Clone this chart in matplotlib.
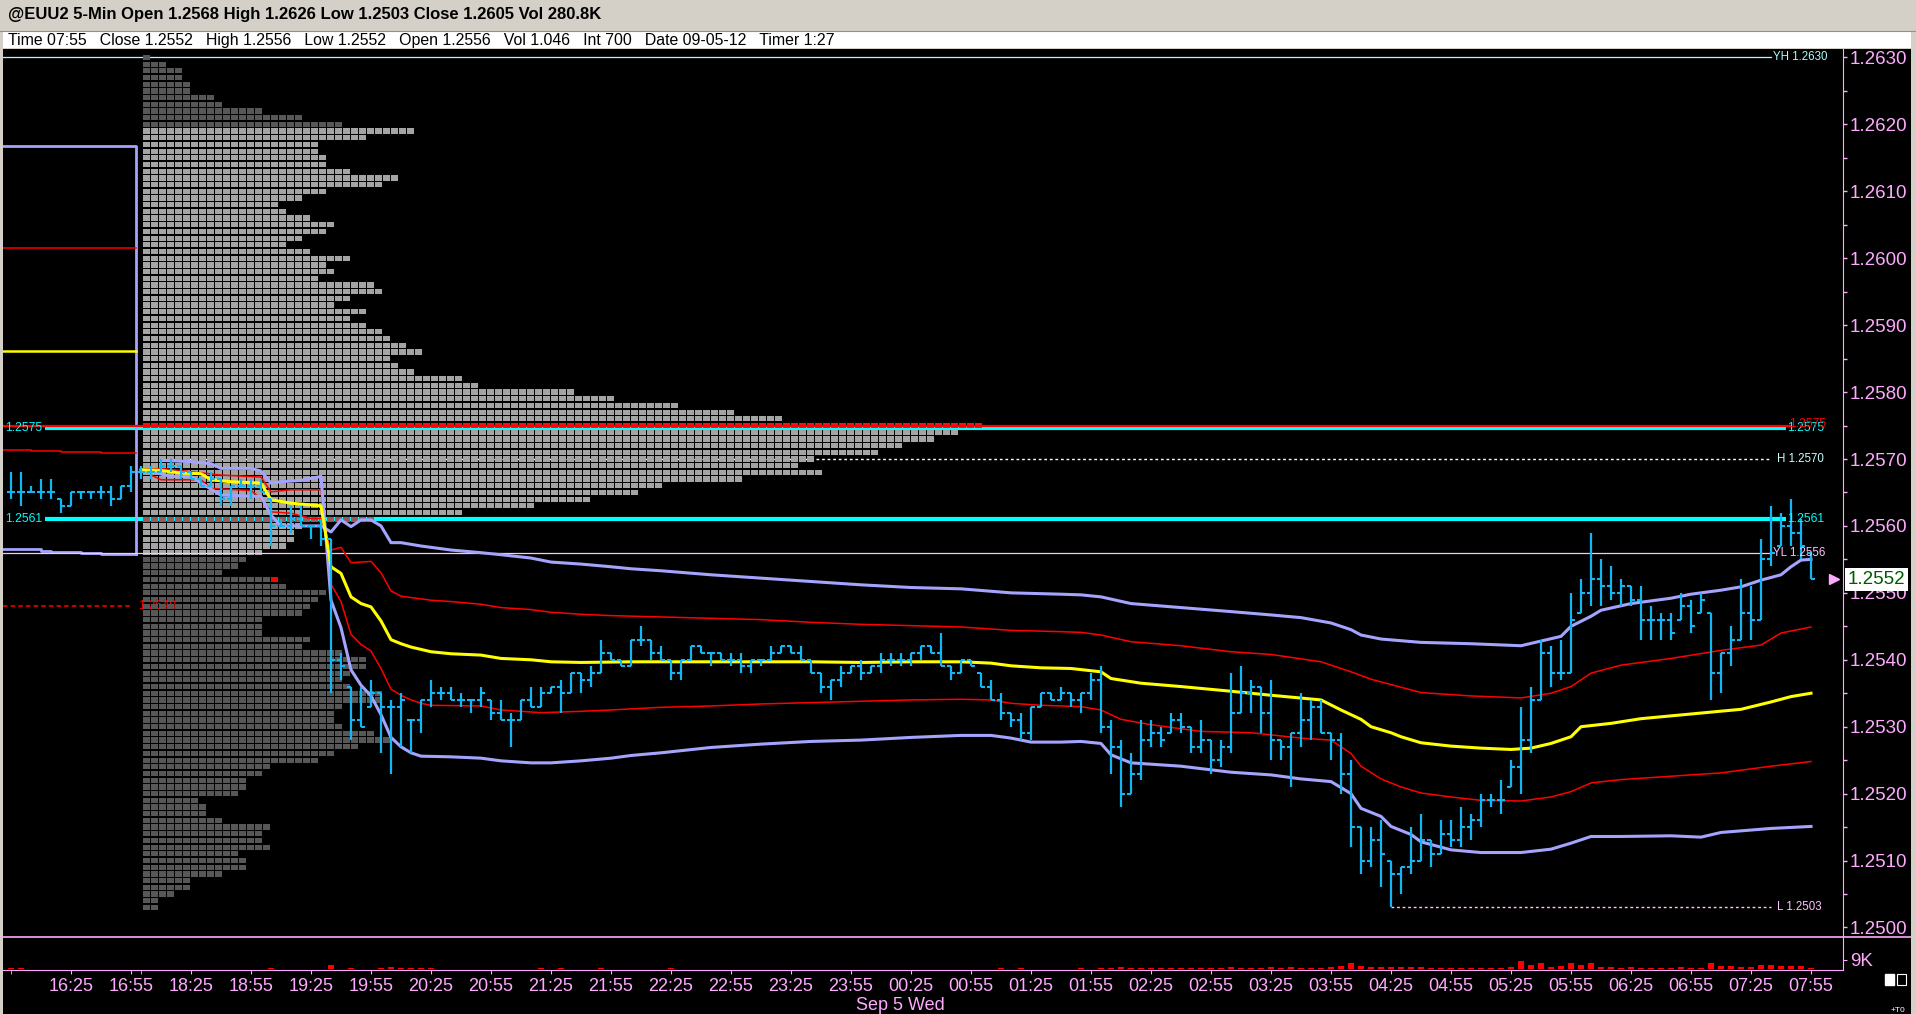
import numpy as np
import matplotlib
matplotlib.use("Agg")
import matplotlib.pyplot as plt
from matplotlib.patches import Rectangle
from matplotlib.lines import Line2D
from matplotlib.ticker import FixedLocator, FixedFormatter
import matplotlib.transforms as mtrans

# ---------------------------------------------------------------- data
first_bar = -6            # bar index of the first bar (15:55); index 0 = 16:25
high_pips = [68,68,66,67,67,64,65,65,65,66, 66,66,69,69,69,70,70,69,68,67,
             68,67,66,67,67,67,64,61,63,63, 60,61,58,41,36,36,37,35,34,35,
             31,34,37,36,36,35,34,36,34,34, 32,34,36,36,36,37,38,38,39,43,
             41,40,43,45,43,42,40,40,42,42, 41,41,41,41,40,40,42,42,42,42,
             40,38,37,39,39,40,39,41,41,41, 41,42,42,44,39,40,40,38,37,35,
             32,32,33,35,35,36,35,35,38,39, 31,28,26,31,31,30,32,32,30,31,
             28,28,38,39,37,36,37,28,29,35, 34,34,29,29,25,15,15,16,10,9,
             15,17,13,16,16,18,17,20,20,22, 25,33,36,43,42,43,50,52,59,55,
             54,52,51,51,48,47,47,50,49,50, 47,41,45,52,51,58,63,62,64,61, 56]
low_pips = [64,63,65,64,64,62,63,64,64,64, 63,64,65,67,67,68,68,67,67,66,
            66,63,63,66,64,65,57,60,59,60, 58,57,35,37,28,30,33,26,23,27,
            26,29,33,34,34,33,32,33,31,31, 27,31,33,33,35,32,35,35,36,38,
            40,39,39,42,40,40,37,37,40,41, 39,40,39,38,38,39,40,41,41,40,
            38,35,34,36,38,37,38,38,39,39, 39,40,41,39,37,38,39,36,34,31,
            30,28,28,33,34,34,33,32,34,29, 23,18,20,22,27,27,29,29,26,26,
            23,24,26,32,32,29,25,25,21,27, 28,29,25,20,12,8,9,6,3,5,
            8,10,9,11,12,12,13,15,18,17, 21,20,26,34,36,37,38,47,48,48,
            49,48,48,43,43,43,43,46,44,47, 34,35,39,43,43,46,54,57,57,55, 52]
close_pips = [65,65,65,65,65,63,65,65,65,65, 64,66,68,68,68,69,69,68,67,66,
              67,64,66,66,66,65,60,60,61,60, 60,58,40,39,31,30,35,33,33,34,
              31,34,35,35,34,34,34,35,32,31, 31,34,33,35,36,35,38,37,38,41,
              40,39,43,43,41,40,38,40,42,41, 41,40,40,39,40,40,41,42,41,40,
              38,36,37,38,39,38,39,40,40,40, 41,42,41,39,38,40,39,36,34,32,
              31,29,33,35,34,35,34,35,37,30, 27,20,23,28,29,28,31,30,27,28,
              25,27,32,35,36,32,28,27,29,31, 33,29,28,23,15,10,13,11,8,9,
              10,13,11,14,13,15,16,19,19,19, 24,28,34,41,38,38,46,50,52,51,
              50,51,49,46,46,46,44,48,45,49, 38,41,43,47,46,55,56,60,59,57, 52]
volume_k = [1,1,0.2,0.2,0.2,0.2,0.2,0.2,0.2,0.2, 0.2,0.2,0.2,0.2,0.2,0.2,0.2,0.2,0.2,0.2,
            0.2,0.2,0.2,0.2,0.2,0.2,1,0.2,0.2,0.2, 0.2,0.2,4,0.2,1,0.2,0.2,1,2,1,
            1,1,1,0.2,0.2,0.2,0.2,0.2,0.2,0.2, 0.2,0.2,0.2,1,0.2,1,0.2,0.2,0.2,1,
            0.2,0.2,0.2,0.2,0.2,0.2,1,0.2,0.2,0.2, 0.2,0.2,0.2,0.2,0.2,0.2,0.2,0.2,0.2,0.2,
            0.2,0.2,0.2,0.2,0.2,0.2,0.2,0.2,0.2,0.2, 0.2,0.2,0.2,0.2,0.2,0.2,0.2,0.2,0.2,1,
            0.2,1,0.2,0.2,0.2,0.2,0.2,1,0.2,1, 1,2,1,1,1,1,1,1,1,1,
            1,1,2,1,1,1,2,1,2,1, 1,1,2,3,6,3,2,2,2,2,
            2,2,1,1,1,1,1,1,1,1, 2,8,4,6,2,3,6,4,6,2,
            2,1,2,1,1,1,1,2,1,1, 6,3,3,2,2,4,4,3,3,3, 1]
time_labels = ['16:25','16:55','18:25','18:55','19:25','19:55','20:25','20:55','21:25','21:55',
               '22:25','22:55','23:25','23:55','00:25','00:55','01:25','01:55','02:25','02:55',
               '03:25','03:55','04:25','04:55','05:25','05:55','06:25','06:55','07:25','07:55']

# volume profile (cells per price row, from 1.2630 down to 1.2503)
profile_top = 1.2630
profile_counts = [1,3,5,5,6,6,9,10,15,20,25,
                  34,28,22,22,23,23,26,32,30,23,
                  20,17,18,21,24,23,20,18,21,26,
                  23,24,22,29,30,26,24,28,26,28,
                  30,31,33,35,31,32,34,40,42,54,
                  59,67,74,80,105,102,99,95,92,84,
                  82,85,75,65,62,56,49,40,29,20,
                  19,19,18,15,13,12,10,16,18,23,
                  22,21,20,15,15,15,21,20,25,28,
                  28,26,25,26,30,30,25,24,24,25,
                  29,31,27,24,22,16,15,13,13,12,
                  7,8,8,10,16,15,15,16,12,13,
                  13,10,6,6,4,2,2]
value_area = (1.2556, 1.2619)
poc_price = 1.2575
marked_row = 1.2561
last_price = 1.2552

# session VWAP and deviation bands (bar index, pips above 1.2500)
vwap_idx = [7,9,11,13,14,16,19,20,22,25,26,27,28,29,30,31,32,33,34,36,38,41,43,46,48,51,56,64,74,79,
            84,89,92,94,97,100,103,104,107,111,116,120,125,127,129,130,132,133,135,138,141,144,146,148,
            150,151,154,157,162,167,170,172,174]
vwap_pips = [68.4,68.3,67.9,67.8,66.9,66.6,66.4,63.9,63.4,63.0,53.9,52.9,49.4,48.4,47.9,45.8,43.0,42.4,41.9,41.2,
             40.9,40.7,40.2,40.0,39.7,39.6,39.7,39.7,39.7,39.6,39.7,39.7,39.5,39.1,38.8,38.7,38.2,37.2,36.5,36.0,
             35.3,34.7,34.0,32.5,31.1,30.0,29.1,28.5,27.6,27.1,26.8,26.6,26.8,27.5,28.5,30.0,30.5,31.2,31.9,32.6,
             33.7,34.5,35.0]
red_a_idx = [8,9,13,14,18,19,20,22,24,25,26,27,28,30,31,32,33,36,38,41,43,46,48,51,54,59,64,69,74,79,
             84,89,94,99,101,103,106,111,116,120,125,128,130,133,135,140,145,148,150,152,155,160,165,169,171,174]
red_a_pips = [67.6,66.9,66.9,65.6,65.3,64.1,62.1,61.9,61.1,61.1,56.4,56.8,54.5,54.7,53.0,50.3,49.5,48.9,48.7,48.3,
              47.8,47.5,47.1,46.8,46.6,46.4,46.2,46.0,45.6,45.3,45.1,44.9,44.4,44.2,44.1,43.7,42.7,42.1,41.2,40.8,
              39.7,38.2,37.1,35.9,35.1,34.6,34.3,35.0,36.0,38.0,39.2,40.2,41.4,42.2,44.0,44.9]
red_b_idx = [7,9,12,15,19,20,22,25,26,27,28,29,30,31,32,33,34,35,36,41,43,47,51,54,59,64,69,74,
             79,84,89,92,94,97,101,103,105,108,113,118,123,126,128,129,131,133,135,138,
             141,145,148,150,152,155,160,165,170,174]
red_b_pips = [68.4,68.6,68.1,67.6,67.3,65.1,65.4,65.4,51.3,48.7,43.8,42.3,41.3,38.7,35.6,34.7,34.0,33.5,
              33.2,33.1,32.5,32.1,32.3,32.5,32.9,33.1,33.4,33.6,33.8,34.0,34.1,34.0,33.5,33.2,33.0,32.5,31.1,30.3,
              29.3,29.1,28.3,28.0,26.0,24.1,22.2,21.0,20.1,19.5,19.0,18.9,19.5,20.3,21.6,22.1,22.6,23.1,24.1,24.8]
lav_a_idx = [8,10,12,13,15,19,20,21,25,26,27,28,29,30,31,32,33,35,37,38,41,43,46,48,51,54,56,59,64,69,
             74,79,84,89,94,99,101,103,106,111,116,120,123,126,128,129,131,135,140,145,
             147,149,150,152,153,156,160,162,165,167,169,171,172,173,174]
lav_a_pips = [68.1,67.4,67.4,66.4,64.6,64.4,61.6,60.0,60.0,59.1,60.9,59.9,60.9,60.9,60.0,57.5,57.5,57.0,56.6,56.4,
              56.0,55.7,55.2,54.6,54.3,53.9,53.6,53.3,52.7,52.2,51.7,51.2,50.8,50.6,50.0,49.8,49.7,49.4,48.4,47.8,
              47.2,46.7,46.3,45.5,44.5,43.7,43.1,42.6,42.4,42.1,42.8,43.5,45.0,46.5,47.4,48.4,49.2,49.8,50.4,50.9,
              51.9,52.7,53.9,54.9,55.0]
lav_b_idx = [9,12,14,15,18,19,20,21,23,25,26,27,28,29,30,31,32,33,34,35,38,41,43,46,48,51,54,56,59,64,
             69,74,79,84,89,92,94,96,99,101,103,104,106,111,116,120,123,126,128,129,
             131,132,134,135,138,141,145,148,150,152,155,160,163,165,170,174]
lav_b_pips = [69.8,69.6,69.3,68.6,68.6,68.2,66.4,66.6,66.8,67.4,48.9,44.8,38.5,36.2,34.6,31.8,28.4,27.0,26.1,25.6,
              25.5,25.3,24.9,24.6,24.6,24.9,25.3,25.7,26.1,26.9,27.4,27.8,28.0,28.4,28.7,28.7,28.3,27.7,27.7,27.8,
              27.5,25.8,24.6,24.1,23.2,22.8,22.2,21.8,20.0,17.8,16.6,15.1,13.9,12.8,11.6,11.2,11.2,11.7,12.6,13.6,
              13.6,13.7,13.5,14.2,14.8,15.1]

# prior session bands (pips), left of the session break
prior_upper2 = 116.7
prior_upper1 = 101.5
prior_vwap = 86.2
prior_l1_idx = [-7, -4, -1, 3, 6.5]
prior_l1_pips = [71.4, 71.2, 71.1, 70.9, 70.9]
prior_l2_idx = [-7, -6, -3, -2, 1, 3, 6.5]
prior_l2_pips = [56.6, 56.5, 56.3, 56.1, 55.9, 55.8, 55.8]
prior_dashed = 1.2548

# reference levels
yest_high = 1.2630
yest_low = 1.2556
sess_high = 1.2570
sess_low = 1.2503
cyan_levels = [1.2575, 1.2561]

title_text = "@EUU2 5-Min Open 1.2568 High 1.2626 Low 1.2503 Close 1.2605 Vol 280.8K"
info_text = ("Time 07:55   Close 1.2552   High 1.2556   Low 1.2552   Open 1.2556   "
             "Vol 1.046   Int 700   Date 09-05-12   Timer 1:27")
date_text = "Sep 5 Wed"

# ---------------------------------------------------------------- style
W, H = 1916, 1014
FONT = ['Liberation Sans', 'DejaVu Sans']
PINK = '#ffaaff'
BAR_C = '#12b6f2'
LAV = '#a4a4ff'
CYAN = '#00ffff'
AXFS = 13.5      # axis label size

def P(pips):
    return 1.25 + np.asarray(pips, dtype=float) / 10000.0

fig = plt.figure(figsize=(W / 100, H / 100), dpi=100, facecolor='#d4d0c8')

def fxy(px, py):
    return px / W, 1 - py / H

# window chrome
x0, y0 = fxy(3, 1014)
x1, y1 = fxy(1911, 49)
fig.patches.append(Rectangle((x0, y0), x1 - x0, y1 - y0, transform=fig.transFigure,
                             facecolor='black', edgecolor='none', zorder=-10))
xa, ya = fxy(3, 48)
xb, yb = fxy(1911, 31)
fig.patches.append(Rectangle((xa, ya), xb - xa, yb - ya, transform=fig.transFigure,
                             facecolor='white', edgecolor='none', zorder=-10))
fig.lines.append(Line2D([0, 1], [1 - 30.5 / H] * 2, transform=fig.transFigure, color='#909090', lw=0.8,
                        zorder=-9))
fig.text(*fxy(8, 15), title_text, fontsize=12, fontweight='bold', family=FONT,
         va='center', ha='left', color='black')
fig.text(*fxy(8, 40), info_text, fontsize=11.4, family=FONT, va='center', ha='left', color='black')

# axes
L, R = 3, 1843
ax = fig.add_axes([L / W, 1 - 937 / H, (R - L) / W, (937 - 49) / H])
axv = fig.add_axes([L / W, 1 - 970 / H, (R - L) / W, 33 / H], sharex=ax)
for a in (ax, axv):
    a.set_facecolor('none')
    a.set_zorder(2)
    for s in a.spines.values():
        s.set_visible(False)
xlo, xhi = -6.8, 177.2
ax.set_xlim(xlo, xhi)
ax.set_ylim(1.249858, 1.263126)
axv.set_ylim(-1, 32)

# ---- volume profile
levels = np.round(profile_top - 0.0001 * np.arange(len(profile_counts)), 4)
prof_x0, cell_w = 7.2, 0.8
for lvl, n in zip(levels, profile_counts):
    if abs(lvl - poc_price) < 1e-6:
        col = '#ff1010'
    elif abs(lvl - marked_row) < 1e-6:
        col = '#9c5858'
    elif value_area[0] - 1e-6 <= lvl <= value_area[1] + 1e-6:
        col = '#a4a4a4'
    else:
        col = '#575757'
    xr = [(prof_x0 + k * cell_w, cell_w * 0.82) for k in range(n)]
    ax.broken_barh(xr, (lvl - 0.000039, 0.000078), facecolors=col, zorder=3)
    if abs(lvl - last_price) < 1e-6:
        ax.broken_barh([(prof_x0 + n * cell_w, cell_w * 0.82)], (lvl - 0.000039, 0.000078),
                       facecolors='#ff0000', zorder=3)

# ---- prior-session lines
xbrk = 6.5
ax.plot([xlo, xbrk, xbrk], [P(prior_upper2), P(prior_upper2), P(prior_l2_pips[-1])], color=LAV, lw=2.0, zorder=4)
ax.plot([xlo, xbrk], [P(prior_upper1)] * 2, color='red', lw=1.1, zorder=4)
ax.plot([xlo, xbrk], [P(prior_vwap)] * 2, color='yellow', lw=1.8, zorder=4)
ax.plot(prior_l1_idx, P(prior_l1_pips), drawstyle='steps-post', color='red', lw=1.1, zorder=4)
ax.plot(prior_l2_idx, P(prior_l2_pips), drawstyle='steps-post', color=LAV, lw=2.0, zorder=4)
ax.plot([xlo, 5.9], [prior_dashed] * 2, color='red', lw=1.1, ls=(0, (3, 2)), zorder=2)
ax.text(6.7, prior_dashed, '%.4f' % prior_dashed, color='red', fontsize=9, family=FONT,
        va='center', ha='left', zorder=2)

# ---- reference levels
lab_x = 170.2
LFS = 8.3
ax.plot([xlo, 170.0], [yest_high] * 2, color='#a8ffff', lw=0.9, zorder=2)
ax.text(lab_x, yest_high, 'YH %.4f' % yest_high, color='#a8ffff', fontsize=LFS, family=FONT, va='center', zorder=9)
ax.plot([9.5, 170.0], [sess_high] * 2, color='white', lw=1.0, ls=(0, (2, 2)), zorder=2)
ax.text(lab_x + 0.4, sess_high, 'H %.4f' % sess_high, color='#c8ffff', fontsize=LFS, family=FONT, va='center', zorder=9)
ax.plot([132, 170.0], [sess_low] * 2, color='#ffc4ff', lw=1.0, ls=(0, (2, 2)), zorder=2)
ax.text(lab_x + 0.4, sess_low, 'L %.4f' % sess_low, color='#ffc4ff', fontsize=LFS, family=FONT, va='center', zorder=9)
ax.plot([xlo, 170.0], [yest_low] * 2, color='#ffc4ff', lw=0.9, zorder=5)
ax.text(lab_x, yest_low, 'YL %.4f' % yest_low, color='#ffc4ff', fontsize=LFS, family=FONT, va='center', zorder=9)
cyan_shift = [-0.00004, 0.0]
for lvl, sh in zip(cyan_levels, cyan_shift):
    ax.plot([-2.6, 171.5], [lvl + sh] * 2, color=CYAN, lw=3.0, zorder=2, solid_capstyle='butt')
    ax.text(-6.6, lvl + sh, '%.4f' % lvl, color=CYAN, fontsize=LFS + 0.5, family=FONT, va='center', zorder=9)
    ax.text(171.6, lvl + sh, '%.4f' % lvl, color=CYAN, fontsize=LFS + 0.5, family=FONT, va='center', zorder=9)
ax.plot([xlo, 172.0], [poc_price] * 2, color='red', lw=1.6, zorder=4)
ax.text(171.8, poc_price + 0.00002, '%.4f' % poc_price, color='red', fontsize=LFS + 0.5, family=FONT,
        va='center', zorder=9)

# ---- session VWAP bands
ax.plot(red_a_idx, P(red_a_pips), color='red', lw=1.1, zorder=5)
ax.plot(red_b_idx, P(red_b_pips), color='red', lw=1.1, zorder=5)
ax.plot(lav_a_idx, P(lav_a_pips), color=LAV, lw=2.2, zorder=5)
ax.plot(lav_b_idx, P(lav_b_pips), color=LAV, lw=2.2, zorder=5)
ax.plot(vwap_idx, P(vwap_pips), color='yellow', lw=2.2, zorder=5)

# ---- price bars
idx = np.arange(first_bar, first_bar + len(close_pips))
hi, lo, cl = P(high_pips), P(low_pips), P(close_pips)
op = np.clip(np.r_[cl[0], cl[:-1]], lo, hi)      # open = prior close (within the bar's range)
ax.vlines(idx, lo, hi, color=BAR_C, lw=1.6, zorder=7)
ax.hlines(op, idx - 0.42, idx, color=BAR_C, lw=1.5, zorder=7)
ax.hlines(cl, idx, idx + 0.42, color=BAR_C, lw=1.5, zorder=7)

# ---- volume
axv.bar(idx, volume_k, width=0.55, color='#ff0000', zorder=3)

# ---- price axis (right)
ax.yaxis.tick_right()
ax.spines['right'].set_visible(True)
ax.spines['right'].set_color(PINK)
yt = np.round(np.arange(1.2500, 1.26301, 0.0010), 4)
ax.yaxis.set_major_locator(FixedLocator(yt))
ax.yaxis.set_major_formatter(FixedFormatter(['%.4f' % v for v in yt]))
ax.yaxis.set_minor_locator(FixedLocator(np.round(yt[:-1] + 0.0005, 5)))
ax.tick_params(axis='y', which='both', direction='out', colors=PINK, length=3, width=1, pad=2,
               labelsize=AXFS, labelfontfamily=FONT[0])
ax.tick_params(axis='x', which='both', bottom=False, labelbottom=False)

axv.yaxis.tick_right()
axv.spines['right'].set_visible(True)
axv.spines['right'].set_color(PINK)
axv.spines['bottom'].set_visible(True)
axv.spines['bottom'].set_color(PINK)
axv.yaxis.set_major_locator(FixedLocator([9]))
axv.yaxis.set_major_formatter(FixedFormatter(['9K']))
axv.tick_params(axis='y', colors=PINK, length=3, pad=2, labelsize=AXFS, labelfontfamily=FONT[0])
xt = np.arange(0, len(time_labels) * 6, 6)
axv.xaxis.set_major_locator(FixedLocator(xt))
axv.xaxis.set_major_formatter(FixedFormatter(time_labels))
axv.xaxis.set_minor_locator(FixedLocator([-6, 7]))
axv.tick_params(axis='x', which='both', colors=PINK, length=3, pad=2.5, labelsize=AXFS - 0.5,
                labelfontfamily=FONT[0])

fig.lines.append(Line2D([3 / W, 1911 / W], [1 - 937 / H] * 2, transform=fig.transFigure, color=PINK, lw=1.2))
fig.text(*fxy(900, 1005), date_text, color=PINK, fontsize=AXFS - 0.5, family=FONT, ha='center', va='center')

# current price box and arrow
trans = mtrans.blended_transform_factory(fig.transFigure, ax.transData)
fig.text(1848 / W, last_price, '%.4f' % last_price, transform=trans, color='#005a00', fontsize=AXFS,
         family=FONT, va='center', ha='left',
         bbox=dict(boxstyle='square,pad=0.15', facecolor='white', edgecolor='none'), zorder=10)
ax.plot([176.3], [last_price], marker='>', color=PINK, ms=7, clip_on=False, zorder=10)

# little widgets at bottom right
fig.patches.append(Rectangle(fxy(1885, 985), 9 / W, 11 / H, transform=fig.transFigure,
                             facecolor='white', edgecolor='white'))
fig.patches.append(Rectangle(fxy(1897, 985), 9 / W, 11 / H, transform=fig.transFigure,
                             facecolor='none', edgecolor='white', lw=0.8))
fig.text(*fxy(1898, 1010), '+T0', color='white', fontsize=6, family=FONT, ha='center', va='center')

fig.savefig('out.png', dpi=100, facecolor=fig.get_facecolor())
